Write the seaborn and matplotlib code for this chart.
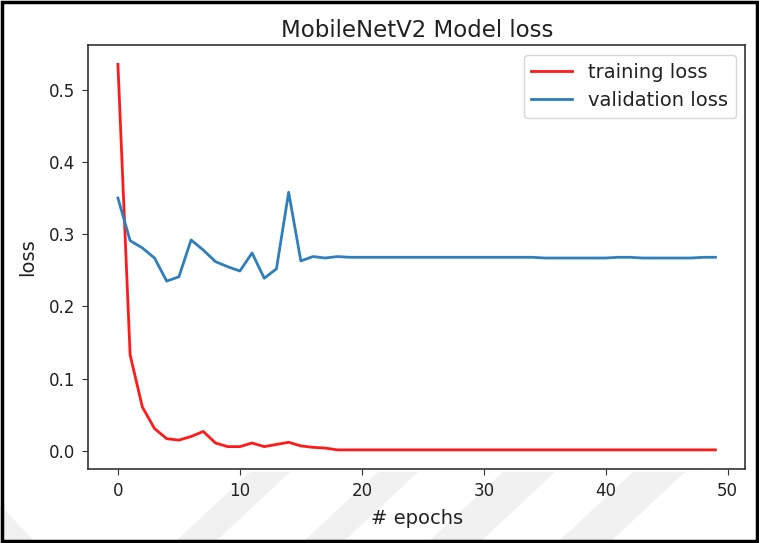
import numpy as np
import pandas as pd
import seaborn as sns
import matplotlib.pyplot as plt
from matplotlib.patches import Rectangle, Polygon

epochs = list(range(50))

train_loss = [0.535, 0.133, 0.061, 0.031, 0.017, 0.015, 0.020, 0.027, 0.011, 0.006,
              0.006, 0.011, 0.006, 0.009, 0.012, 0.007, 0.005, 0.004, 0.0015, 0.0015,
              0.0015, 0.0015, 0.0015, 0.0015, 0.0015, 0.0015, 0.0015, 0.0015, 0.0015, 0.0015,
              0.0015, 0.0015, 0.0015, 0.0015, 0.0015, 0.0015, 0.0015, 0.0015, 0.0015, 0.0015,
              0.0015, 0.0015, 0.0015, 0.0015, 0.0015, 0.0015, 0.0015, 0.0015, 0.0015, 0.0015]

val_loss = [0.350, 0.291, 0.281, 0.267, 0.235, 0.241, 0.292, 0.278, 0.262, 0.255,
            0.249, 0.274, 0.239, 0.252, 0.358, 0.263, 0.269, 0.267, 0.269, 0.268,
            0.268, 0.268, 0.268, 0.268, 0.268, 0.268, 0.268, 0.268, 0.268, 0.268,
            0.268, 0.268, 0.268, 0.268, 0.268, 0.267, 0.267, 0.267, 0.267, 0.267,
            0.267, 0.268, 0.268, 0.267, 0.267, 0.267, 0.267, 0.267, 0.268, 0.268]

df = pd.DataFrame({
    "epoch": epochs + epochs,
    "loss": train_loss + val_loss,
    "series": ["training loss"] * 50 + ["validation loss"] * 50,
})

W, H = 759, 543
fig = plt.figure(figsize=(W / 100, H / 100), dpi=100)
ax = fig.add_axes([0.116, 0.136, 0.866, 0.781])

sns.lineplot(data=df, x="epoch", y="loss", hue="series",
             palette={"training loss": "#ff1a1a", "validation loss": "#2f7fbd"},
             linewidth=2.0, ax=ax)

ax.set_title("MobileNetV2 Model loss", fontsize=16.5, pad=6, color="#222222")
ax.set_xlabel("# epochs", fontsize=14, labelpad=6, color="#222222")
ax.set_ylabel("loss", fontsize=14, labelpad=8, color="#222222")
ax.tick_params(labelsize=12, length=4.5, pad=5, color="#333333", labelcolor="#222222")
ax.set_xticks([0, 10, 20, 30, 40, 50])
ax.set_yticks([0.0, 0.1, 0.2, 0.3, 0.4, 0.5])
for s in ax.spines.values():
    s.set_color("#333333")
    s.set_linewidth(1.2)

leg = ax.legend(fontsize=14, loc="upper right", handlelength=2.1)
leg.get_frame().set_edgecolor("#cccccc")
for t in leg.get_texts():
    t.set_color("#222222")

# faint diagonal watermark bands under the axes
def px(x, y):
    return (x / W, 1 - y / H)

band_left = [250, 378, 503, 633]
band_width = [40, 40, 52, 52]
for x0, w in zip(band_left, band_width):
    pts = [px(x0, 472), px(x0 + w, 472), px(x0 + w - 76, 543), px(x0 - 76, 543)]
    fig.patches.append(Polygon(pts, closed=True, transform=fig.transFigure,
                               facecolor="#f1f1f1", edgecolor="none", zorder=-1))
fig.patches.append(Polygon([px(0, 505), px(36, 543), px(0, 543)], closed=True,
                           transform=fig.transFigure, facecolor="#f1f1f1",
                           edgecolor="none", zorder=-1))

# outer frame of the picture
fig.patches.append(Rectangle((0.002, 0.003), 0.996, 0.994, transform=fig.transFigure,
                             fill=False, edgecolor="black", linewidth=2.5))

fig.savefig("out.png", dpi=100)
